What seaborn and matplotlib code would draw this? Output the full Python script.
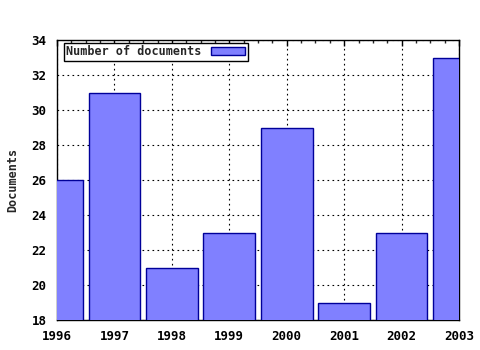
import matplotlib
matplotlib.use("Agg")
import matplotlib.pyplot as plt
import seaborn as sns
import pandas as pd
from matplotlib.ticker import MultipleLocator, FuncFormatter

years = [1996, 1997, 1998, 1999, 2000, 2001, 2002, 2003]
documents = [26, 31, 21, 23, 29, 19, 23, 33]

sns.set_style("white")
plt.rcParams['font.family'] = ['DejaVu Sans Mono']
plt.rcParams['font.weight'] = 'bold'

df = pd.DataFrame({"Year": years, "Documents": documents})

fig = plt.figure(figsize=(4.8, 3.5), dpi=100)
ax = fig.add_axes([57/480, 1-320/350, (459-57)/480, (320-40)/350])

sns.barplot(data=df, x="Year", y="Documents", native_scale=True, width=0.9,
            color="#8080ff", saturation=1, edgecolor="#000099", linewidth=1,
            label="Number of documents", ax=ax, zorder=3)

ax.set_xlim(1996, 2003)
ax.set_ylim(18, 34)
ax.xaxis.set_major_locator(MultipleLocator(1))
ax.xaxis.set_minor_locator(MultipleLocator(0.25))
ax.yaxis.set_major_locator(MultipleLocator(2))
ax.xaxis.set_major_formatter(FuncFormatter(lambda v, p: f"{int(round(v))}"))
ax.yaxis.set_major_formatter(FuncFormatter(lambda v, p: f"{int(round(v))}"))

ax.grid(True, which="major", color="black", linestyle=(0, (1.5, 3)), linewidth=0.8, zorder=0)
ax.set_axisbelow(True)
for s in ax.spines.values():
    s.set_color("black")
    s.set_linewidth(1)
    s.set_visible(True)

ax.tick_params(axis="both", which="major", direction="out", length=4, width=1,
               labelsize=9, colors="black", right=False)
ax.tick_params(axis="x", which="minor", direction="out", length=2, width=1)
ax.tick_params(axis="x", which="both", top=True)
ax.xaxis.set_tick_params(which="major", pad=3)
for t in ax.xaxis.get_major_ticks():
    t.tick2line.set_marker(matplotlib.lines.TICKDOWN)
    t.tick2line.set_markersize(4)
for t in ax.xaxis.get_minor_ticks():
    t.tick2line.set_marker(matplotlib.lines.TICKDOWN)
    t.tick2line.set_markersize(2)
for lab in ax.get_xticklabels() + ax.get_yticklabels():
    lab.set_fontweight("bold")

ax.set_xlabel("")
ax.set_ylabel("Documents", fontsize=8.5, fontweight="bold", labelpad=9)

leg = ax.legend(loc="upper left", bbox_to_anchor=(7/402, 1-3/280), fontsize=8.5,
                frameon=True, fancybox=False, edgecolor="black", framealpha=1,
                borderpad=0.2, handlelength=2.9, handleheight=0.6,
                borderaxespad=0, markerfirst=False)
leg.get_frame().set_linewidth(1)
for t in leg.get_texts():
    t.set_fontweight("bold")

fig.savefig("out.png", dpi=100)
